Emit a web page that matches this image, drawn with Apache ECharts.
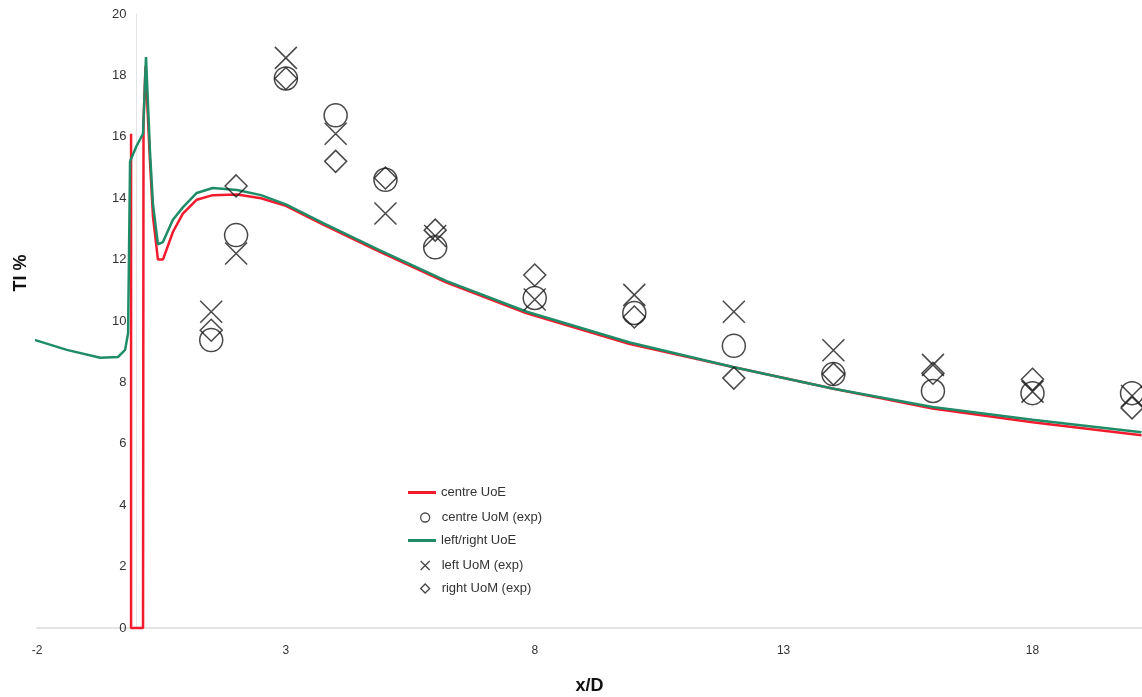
<!DOCTYPE html>
<html>
<head>
<meta charset="utf-8">
<title>TI % vs x/D</title>
<script src="https://cdn.jsdelivr.net/npm/echarts@6/dist/echarts.min.js"></script>
<style>
    html, body { margin: 0; padding: 0; background: #fff; }
    #chart { width: 1142px; height: 697px; }
</style>
</head>
<body>
<div id="chart"></div>
<script>
// CFD profiles (x/D, TI %)
const centreUoE = [
    [-0.11, 16.1], [-0.11, 0], [0.13, 0], [0.14, 16.5], [0.18, 18.3],
    [0.27, 15.2], [0.33, 13.4], [0.43, 12.0], [0.53, 12.0], [0.73, 12.9],
    [0.93, 13.5], [1.21, 13.95], [1.53, 14.1], [2.02, 14.12], [2.5, 14.0],
    [3.0, 13.75], [3.74, 13.15], [4.89, 12.25], [6.23, 11.25], [7.84, 10.25],
    [9.91, 9.25], [11.98, 8.5], [13.98, 7.8], [15.99, 7.15], [18.0, 6.7], [20.19, 6.28]
];
const leftRightUoE = [
    [-2.24, 9.48], [-1.4, 9.06], [-0.73, 8.8], [-0.37, 8.83], [-0.23, 9.06],
    [-0.17, 9.6], [-0.13, 15.2], [-0.09, 15.25], [0.0, 15.7], [0.13, 16.1],
    [0.19, 18.6], [0.27, 15.5], [0.33, 13.8], [0.43, 12.5], [0.53, 12.57],
    [0.73, 13.3], [0.93, 13.7], [1.21, 14.17], [1.53, 14.33], [2.02, 14.27],
    [2.5, 14.1], [3.0, 13.8], [3.74, 13.2], [4.89, 12.3], [6.23, 11.3], [7.84, 10.3],
    [9.91, 9.3], [11.98, 8.5], [13.98, 7.8], [15.99, 7.2], [18.0, 6.78], [20.19, 6.38]
];

// experiment stations
const expX = [1.5, 2, 3, 4, 5, 6, 8, 10, 12, 14, 16, 18, 20];
const centreUoM = [9.38, 12.8, 17.9, 16.7, 14.6, 12.4, 10.75, 10.26, 9.19, 8.27, 7.72, 7.65, 7.65];
const leftUoM = [10.3, 12.2, 18.57, 16.1, 13.5, 12.77, 10.7, 10.85, 10.3, 9.05, 8.57, 7.7, 7.56];
const rightUoM = [9.7, 14.4, 17.9, 15.2, 14.66, 12.96, 11.5, 10.13, 8.14, 8.27, 8.3, 8.1, 7.17];

const xTicks = [-2, 3, 8, 13, 18];

const pair = (xs, ys) => xs.map((x, i) => [x, ys[i]]);
const crossPath = 'path://M0,0L10,10M10,0L0,10';

const gridLeft = 37;
const xMin = -2;
const xMax = 20.2;
const plotW = 1142 - gridLeft;
// y axis sits on x = 0, so shift it right from the grid edge
const yAxisShift = (0 - xMin) / (xMax - xMin) * plotW;

const chart = echarts.init(document.getElementById('chart'));

const markerStyle = { color: 'transparent', borderColor: '#1a1a1a', borderWidth: 1.5 };

const scatterBase = {
    type: 'scatter',
    symbolKeepAspect: true,
    itemStyle: markerStyle,
    z: 5
};

// one legend per row so line and marker icons can have their own sizes
const legendRow = (name, top, isLine, icon) => ({
    orient: 'vertical',
    left: isLine ? 408 : 420,
    top: top,
    padding: 0,
    itemWidth: isLine ? 28 : 9,
    itemHeight: isLine ? 3 : 9,
    icon: isLine ? 'rect' : icon,
    itemStyle: isLine ? {} : { color: 'transparent', borderColor: '#1a1a1a', borderWidth: 1.3 },
    textStyle: { fontSize: 13, color: '#333', padding: [0, 0, 0, isLine ? 0 : 7] },
    data: [name]
});

const option = {
    backgroundColor: '#fff',
    animation: false,
    textStyle: { fontFamily: 'Liberation Sans, Arial, sans-serif' },
    grid: { left: gridLeft, right: 0, top: 14, bottom: 69, containLabel: false, outerBoundsMode: 'none' },
    legend: [
        legendRow('centre UoE', 486, true),
        legendRow('centre UoM (exp)', 511, false, 'circle'),
        legendRow('left/right UoE', 534, true),
        legendRow('left UoM (exp)', 559, false, crossPath),
        legendRow('right UoM (exp)', 582, false, 'diamond')
    ],
    xAxis: {
        type: 'value',
        min: xMin,
        max: xMax,
        interval: 5,
        name: 'x/D',
        nameLocation: 'middle',
        nameGap: 49,
        nameTextStyle: { fontSize: 18, fontWeight: 'bold', color: '#111' },
        axisLine: { onZero: true, lineStyle: { color: '#e4e4e4', width: 2 } },
        axisTick: { show: false },
        splitLine: { show: false },
        axisLabel: {
            color: '#333',
            fontSize: 12,
            margin: 17,
            customValues: xTicks
        }
    },
    yAxis: {
        type: 'value',
        min: 0,
        max: 20,
        interval: 2,
        position: 'left',
        offset: -yAxisShift,
        name: 'TI %',
        nameLocation: 'middle',
        nameRotate: 90,
        nameGap: 107,
        nameMoveOverlap: false,
        nameTextStyle: { fontSize: 18, fontWeight: 'bold', color: '#111', padding: [0, 0, 0, 96] },
        axisLine: { show: true, onZero: false, lineStyle: { color: '#e4e4e4', width: 1 } },
        axisTick: { show: false },
        splitLine: { show: false },
        axisLabel: { color: '#333', fontSize: 13, margin: 10 }
    },
    series: [
        {
            name: 'centre UoE',
            type: 'line',
            data: centreUoE,
            symbol: 'none',
            clip: false,
            color: '#f21b2d',
            lineStyle: { color: '#f21b2d', width: 2.5 },
            z: 3
        },
        Object.assign({}, scatterBase, {
            name: 'centre UoM (exp)',
            data: pair(expX, centreUoM),
            symbol: 'circle',
            symbolSize: 23
        }),
        {
            name: 'left/right UoE',
            type: 'line',
            data: leftRightUoE,
            symbol: 'none',
            clip: false,
            color: '#1f8c68',
            lineStyle: { color: '#1f8c68', width: 2.5 },
            z: 4
        },
        Object.assign({}, scatterBase, {
            name: 'left UoM (exp)',
            data: pair(expX, leftUoM),
            symbol: crossPath,
            symbolSize: 22
        }),
        Object.assign({}, scatterBase, {
            name: 'right UoM (exp)',
            data: pair(expX, rightUoM),
            symbol: 'diamond',
            symbolSize: 22
        })
    ]
};

chart.setOption(option);
</script>
</body>
</html>
